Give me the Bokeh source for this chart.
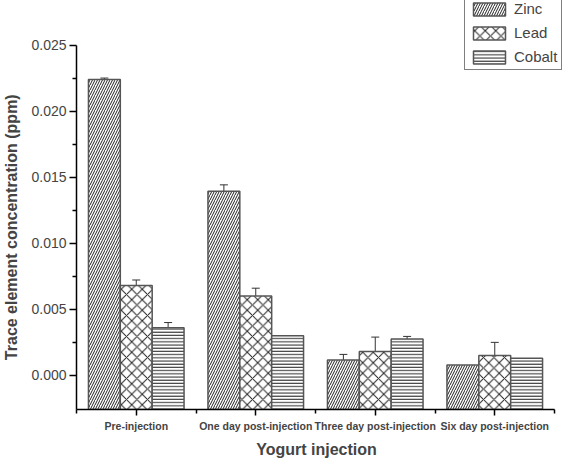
from bokeh.plotting import figure
from bokeh.models import (ColumnDataSource, Whisker, TeeHead, Legend, LegendItem,
                          FixedTicker, NumeralTickFormatter, Range1d)
from bokeh.embed import file_html
from bokeh.resources import INLINE

categories = ["Pre-injection", "One day post-injection", "Three day post-injection", "Six day post-injection"]
series = ["Zinc", "Lead", "Cobalt"]
zinc = [0.0224, 0.01394, 0.00116, 0.00078]
lead = [0.0068, 0.0060, 0.0018, 0.0015]
cobalt = [0.00361, 0.0030, 0.00275, 0.0013]
zinc_err = [0.0001, 0.00048, 0.00043, 0.0]
lead_err = [0.00042, 0.0006, 0.0011, 0.001]
cobalt_err = [0.00039, 0.0, 0.0002, 0.0]
y_ticks = [0.0, 0.005, 0.010, 0.015, 0.020, 0.025]
y_minor = [0.0025, 0.0075, 0.0125, 0.0175, 0.0225]
Y_MIN, Y_AXIS_TOP, Y_VIEW_TOP = -0.00258, 0.025, 0.02837
X_VIEW_END = 4.092
x_title = "Yogurt injection"
y_title = "Trace element concentration (ppm)"

values = [zinc, lead, cobalt]
errors = [zinc_err, lead_err, cobalt_err]
hatches = ["/", "x", "-"]
hscales = [5, 10.5, 3.2]
bar_w = 0.8 / 3
offsets = [-bar_w, 0.0, bar_w]
NBSP = "\u00a0"

p = figure(frame_width=489, frame_height=409, output_backend="svg", toolbar_location=None,
           x_range=Range1d(0, X_VIEW_END), y_range=Range1d(Y_MIN, Y_VIEW_TOP),
           min_border_left=76, min_border_right=0, min_border_top=0, min_border_bottom=0)
p.outline_line_color = None
p.grid.visible = False
p.background_fill_color = "white"
p.border_fill_color = "white"

items = []
for k, name in enumerate(series):
    xs = [i + 0.5 + offsets[k] for i in range(len(categories))]
    src = ColumnDataSource(dict(x=xs, top=values[k]))
    r = p.vbar(x="x", top="top", bottom=Y_MIN, width=bar_w, source=src,
               fill_color="white", line_color="#555555", line_width=1.5,
               hatch_pattern=hatches[k], hatch_scale=hscales[k], hatch_color="#222222",
               hatch_weight=1)
    items.append(LegendItem(label=name, renderers=[r]))
    ex, up, lo = [], [], []
    for i in range(len(categories)):
        if errors[k][i] > 0:
            ex.append(xs[i]); up.append(values[k][i] + errors[k][i]); lo.append(values[k][i] - errors[k][i])
    esrc = ColumnDataSource(dict(x=ex, upper=up, lower=lo))
    w = Whisker(base="x", upper="upper", lower="lower", source=esrc, dimension="height",
                line_color="#333333", line_width=1,
                upper_head=TeeHead(size=8, line_color="#333333", line_width=1),
                lower_head=TeeHead(size=8, line_color="#333333", line_width=1))
    p.add_layout(w)

legend = Legend(items=items, location=(388, 339), border_line_color="black", border_line_width=1,
                background_fill_color="white", background_fill_alpha=1,
                glyph_width=40, glyph_height=16, label_standoff=5, padding=4, spacing=7,
                label_text_font="Liberation Sans", label_text_font_size="15px", margin=0)
p.add_layout(legend, "center")

# x axis
xa = p.xaxis[0]
xa.bounds = (0, len(categories))
xa.ticker = FixedTicker(ticks=[i + 0.5 for i in range(len(categories))],
                        minor_ticks=list(range(len(categories) + 1)))
xa.major_label_overrides = {i + 0.5: c for i, c in enumerate(categories)}
xa.major_tick_out = 6
xa.major_tick_in = 0
xa.major_tick_line_width = 1.5
xa.minor_tick_out = 4
xa.minor_tick_in = 0
xa.minor_tick_line_width = 1.5
xa.axis_line_width = 1.5
xa.major_label_text_font = "Liberation Sans"
xa.major_label_text_font_style = "bold"
xa.major_label_text_font_size = "10.5px"
xa.major_label_standoff = 4
xa.axis_label = x_title + NBSP * 2
xa.axis_label_text_font = "Liberation Sans"
xa.axis_label_text_font_style = "bold"
xa.axis_label_text_font_size = "16px"
xa.axis_label_standoff = 6

ya = p.yaxis[0]
ya.bounds = (Y_MIN, Y_AXIS_TOP)
ya.ticker = FixedTicker(ticks=y_ticks, minor_ticks=y_minor)
ya.formatter = NumeralTickFormatter(format="0.000")
ya.major_tick_out = 7
ya.major_tick_in = 0
ya.minor_tick_out = 4
ya.minor_tick_in = 0
ya.major_tick_line_width = 1.5
ya.minor_tick_line_width = 1.5
ya.axis_line_width = 1.5
ya.major_label_text_font = "Liberation Sans"
ya.major_label_text_font_size = "14px"
ya.major_label_standoff = 3
ya.axis_label = y_title + NBSP * 10
ya.axis_label_text_font = "Liberation Sans"
ya.axis_label_text_font_style = "bold"
ya.axis_label_text_font_size = "16px"
ya.axis_label_standoff = 8

open("out.html", "w").write(file_html(p, INLINE))
